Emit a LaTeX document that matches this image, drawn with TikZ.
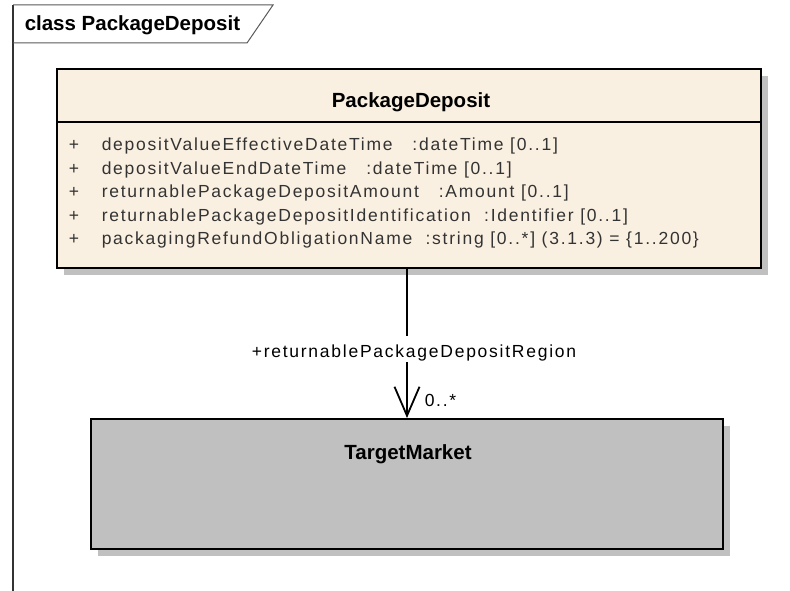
\documentclass[tikz,border=0pt]{standalone}
\usepackage{fontspec}
\setmainfont{Liberation Sans}
\newfontfamily\attrfont[LetterSpace=10]{Liberation Sans}
\usetikzlibrary{arrows.meta, positioning, shadows}
\definecolor{cbeige}{HTML}{FAF0E1}
\definecolor{cgreyfill}{HTML}{C0C0C0}
\definecolor{cshadow}{HTML}{C0C0C0}
\definecolor{ctext}{HTML}{333333}
\tikzset{
  every picture/.style={line width=1.5pt},
  classbox/.style={draw=black, fill=#1, line width=2pt, inner sep=0pt,
    drop shadow={shadow xshift=7pt, shadow yshift=-7pt, fill=cshadow, opacity=1}},
  classbox/.default=cbeige,
  classname/.style={font=\fontsize{20.5}{24}\selectfont\bfseries, inner sep=0pt, anchor=base},
  attr/.style={font=\attrfont\fontsize{17.5}{21}\selectfont, text=ctext, inner sep=0pt, anchor=base west},
  role/.style={font=\attrfont\fontsize{17.5}{21}\selectfont, inner xsep=0pt, inner ysep=1.5pt},
  assoc/.style={-{Straight Barb[length=29pt, width=25pt]}, draw=black, line width=1.8pt},
  framefine/.style={draw=black!65, line width=1pt},
}
\begin{document}
\begin{tikzpicture}[x=1pt, y=-1pt]
  \useasboundingbox (0,0) rectangle (790,591);
  % diagram frame with its name tab
  \draw[black!80, line width=1.3pt] (13,591) -- (13,5);
  \draw[framefine] (13,5) -- (273,5) -- (247,43) -- (13,43);
  \node[classname, anchor=base west] (frame) at (24,31) {class PackageDeposit};
  % class PackageDeposit
  \node[classbox=cbeige, minimum width=704, minimum height=199] (pd) at (409,168.5) {};
  \coordinate (pdsep) at (0,122);
  \draw[line width=2pt] (pd.west |- pdsep) -- (pd.east |- pdsep);
  \node[classname] (pdname) at (411,107.3) {PackageDeposit};
  \foreach \attrtext [count=\i] in {
      {depositValueEffectiveDateTime\ \ \ :dateTime [0..1]},
      {depositValueEndDateTime\ \ \ :dateTime [0..1]},
      {returnablePackageDepositAmount\ \ \ :Amount [0..1]},
      {returnablePackageDepositIdentification\ \ :Identifier [0..1]},
      {packagingRefundObligationName\ \ :string [0..*] (3.1.3) = \{1..200\}}} {
    \node[attr] (plus\i) at (68,{127.2+23.5*\i}) {+};
    \node[attr] (attr\i) at (101,{127.2+23.5*\i}) {\attrtext};
  }
  % class TargetMarket
  \node[classbox=cgreyfill, minimum width=632, minimum height=130] (tm) at (407,484) {};
  \node[classname] (tmname) at (408,459.5) {TargetMarket};
  % association
  \draw[assoc] (tm.north |- pd.south) -- (tm.north);
  \node[role, fill=white, anchor=base, text height=20pt, text depth=3pt] (region) at (414,357.7) {+returnablePackageDepositRegion};
  \node[role, anchor=base west, inner sep=0pt] (mult) at (424,406.7) {0..*};
\end{tikzpicture}
\end{document}
